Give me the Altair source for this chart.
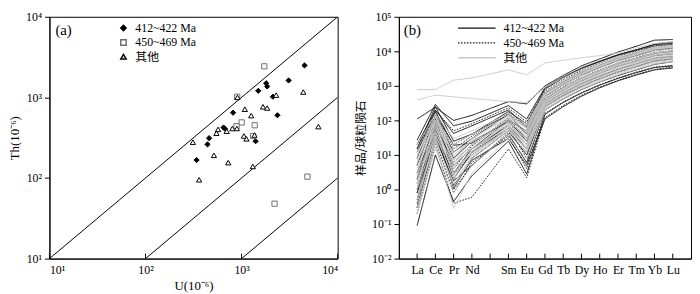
import altair as alt
import pandas as pd

SERIF = "Liberation Serif, Noto Sans CJK SC"
CJK = "Noto Sans CJK SC"

groups = ["412~422 Ma", "450~469 Ma", "其他"]

# ---------------- Panel (a): U vs Th ----------------
u_412 = [4520, 3087, 1803, 1845, 1491, 2118, 2360, 815, 648, 672, 459, 442, 1400, 340]
th_412 = [2492, 1622, 1496, 1368, 1206, 1018, 600, 645, 423, 408, 312, 261, 286, 167]
u_450 = [1722, 900, 1002, 885, 1370, 1319, 4842, 2203]
th_450 = [2426, 1018, 489, 438, 451, 332, 104, 48]
u_oth = [2291, 4385, 1671, 1845, 1081, 1259, 6300, 802, 893, 569, 700, 547, 1057,
         1124, 1361, 311, 515, 726, 1309, 361, 905]
th_oth = [1066, 1165, 764, 738, 713, 594, 434, 411, 411, 401, 380, 359, 332,
          306, 341, 278, 191, 155, 139, 95, 1000]

th_u_ratios = [1, 0.1, 0.01]
u_domain = [10, 10000]
th_domain = [10, 10000]
ticks_a = [10, 100, 1000, 10000]

# ---------------- Panel (b): REE patterns ----------------
ree_ticks = ["La", "Ce", "Pr", "Nd", "", "Sm", "Eu", "Gd", "Tb", "Dy", "Ho", "Er", "Tm", "Yb", "Lu"]
ree_elems = ["La", "Ce", "Pr", "Nd", "Sm", "Eu", "Gd", "Tb", "Dy", "Ho", "Er", "Tm", "Yb", "Lu"]

ree_412 = [
    [110, 240, 100, 140, 350, 300, 1000, 2000, 3800, 6000, 9500, 14000, 21000, 22000],
    [27, 290, 70, 95, 270, 110, 900, 1800, 3300, 5200, 8000, 11000, 15500, 17000],
    [20, 200, 42, 70, 200, 65, 620, 1300, 2500, 4000, 6400, 9000, 13000, 14500],
    [12, 180, 19, 22, 100, 50, 500, 1100, 2100, 3400, 5500, 7600, 11000, 12500],
    [5, 120, 8, 25, 90, 30, 420, 900, 1700, 2800, 4500, 6300, 9000, 10000],
    [3, 80, 5, 15, 70, 20, 350, 750, 1400, 2300, 3700, 5200, 7500, 8500],
    [1, 60, 2, 12, 60, 15, 300, 620, 1150, 1900, 3000, 4300, 6200, 7000],
    [0.5, 50, 1.1, 8, 50, 10, 250, 520, 950, 1600, 2500, 3600, 5200, 6000],
    [0.09, 10, 0.45, 2.5, 25, 2.8, 150, 330, 620, 1050, 1650, 2400, 3400, 3800],
    [0.3, 30, 1.8, 5, 40, 6, 200, 420, 780, 1300, 2000, 2900, 4200, 5000],
    [8, 150, 12, 30, 150, 40, 600, 1250, 2400, 3900, 6200, 8600, 12500, 14000],
    [2, 100, 3, 15, 100, 25, 400, 880, 1650, 2700, 4300, 6000, 8600, 9800],
    [0.8, 40, 1.3, 7, 30, 5, 110, 250, 500, 880, 1400, 2050, 2900, 3300],
    [15, 250, 25, 40, 180, 80, 800, 1700, 3100, 5000, 7800, 11000, 16000, 18500],
]
ree_450 = [
    [15, 200, 50, 80, 230, 90, 850, 1700, 3200, 5000, 7800, 10500, 14500, 16000],
    [5, 150, 20, 40, 150, 60, 600, 1300, 2400, 3900, 6200, 8800, 12500, 14000],
    [1.5, 90, 6, 20, 120, 40, 480, 1050, 2000, 3300, 5300, 7300, 10500, 12000],
    [0.4, 50, 2.5, 12, 80, 25, 350, 760, 1450, 2350, 3800, 5300, 7600, 8700],
    [0.2, 20, 0.4, 0.6, 15, 2.2, 120, 270, 540, 920, 1450, 2150, 3000, 3500],
    [3, 40, 3, 10, 60, 8, 260, 540, 1000, 1650, 2600, 3700, 5400, 6200],
    [0.8, 70, 1, 5, 45, 12, 300, 640, 1200, 1950, 3100, 4400, 6400, 7300],
    [8, 180, 15, 35, 160, 70, 700, 1500, 2800, 4500, 7200, 10000, 14000, 15500],
    [0.3, 25, 0.8, 6, 35, 4, 160, 340, 640, 1080, 1700, 2500, 3500, 3900],
    [2, 110, 4, 18, 110, 30, 420, 920, 1750, 2850, 4600, 6400, 9200, 10500],
]
ree_oth = [
    [780, 780, 1460, 1700, 2900, 2080, 4600, 5500, 6500, 7500, 9000, 12500, 17000, 19000],
    [390, 540, 480, 430, 350, 330, 900, 1700, 3000, 4600, 7000, 9500, 13000, 14500],
    [20, 150, 30, 50, 150, 80, 650, 1400, 2600, 4200, 6700, 9300, 13200, 15000],
    [10, 120, 15, 30, 120, 60, 520, 1120, 2150, 3500, 5600, 7800, 11200, 12800],
    [6, 100, 10, 25, 100, 45, 480, 1050, 2000, 3250, 5200, 7200, 10300, 11800],
    [4, 80, 7, 20, 90, 35, 400, 880, 1680, 2750, 4400, 6200, 8900, 10200],
    [2.5, 60, 5, 15, 80, 30, 380, 830, 1580, 2600, 4150, 5800, 8300, 9500],
    [1.5, 50, 3, 12, 70, 25, 340, 740, 1400, 2300, 3700, 5200, 7500, 8600],
    [1, 40, 2, 10, 60, 20, 320, 690, 1300, 2150, 3450, 4800, 6900, 7900],
    [0.6, 30, 1.2, 8, 50, 15, 280, 600, 1130, 1850, 2950, 4200, 6000, 6900],
    [0.3, 20, 0.28, 3, 30, 8, 200, 430, 800, 1320, 2100, 3000, 4300, 5000],
    [8, 70, 12, 25, 70, 30, 360, 780, 1480, 2420, 3900, 5450, 7800, 9000],
    [3, 130, 6, 20, 110, 50, 550, 1180, 2250, 3700, 5900, 8200, 11800, 13500],
    [12, 90, 20, 40, 130, 70, 580, 1250, 2350, 3850, 6100, 8500, 12200, 13800],
    [0.2, 15, 0.8, 5, 40, 12, 240, 510, 960, 1580, 2520, 3600, 5100, 5900],
    [5, 45, 6, 15, 60, 20, 300, 640, 1220, 2000, 3200, 4500, 6400, 7400],
    [1.2, 100, 2.5, 13, 90, 40, 420, 900, 1720, 2820, 4500, 6300, 9000, 10300],
    [0.5, 25, 1.5, 9, 55, 18, 260, 560, 1050, 1720, 2750, 3900, 5600, 6400],
    [2, 35, 4, 11, 50, 14, 220, 470, 880, 1450, 2300, 3300, 4700, 5400],
    [7, 160, 9, 28, 140, 60, 600, 1300, 2450, 4000, 6350, 8800, 12600, 14400],
]
ticks_b_y = [0.01, 0.1, 1, 10, 100, 1000, 10000, 100000]

# ---------------- build tables ----------------
pts = pd.DataFrame(
    [{"U": u, "Th": t, "group": groups[0]} for u, t in zip(u_412, th_412)]
    + [{"U": u, "Th": t, "group": groups[1]} for u, t in zip(u_450, th_450)]
    + [{"U": u, "Th": t, "group": groups[2]} for u, t in zip(u_oth, th_oth)]
)

diag_rows = []
for r in th_u_ratios:
    u0 = max(u_domain[0], th_domain[0] / r)
    for u in (u0, u_domain[1]):
        diag_rows.append({"U": u, "Th": r * u, "ratio": str(r)})
diag = pd.DataFrame(diag_rows)

ree_rows = []
sid = 0
for grp, series in zip(groups, [ree_412, ree_450, ree_oth]):
    for s in series:
        sid += 1
        for el, v in zip(ree_elems, s):
            ree_rows.append({"sample": f"{grp}-{sid}", "group": grp,
                             "pos": ree_ticks.index(el), "value": v, "gorder": groups.index(grp)})
ree = pd.DataFrame(ree_rows)

sup_expr = ("'10' + (datum.value < 1 ? '⁻' : '') + "
            "['⁰','¹','²','³','⁴','⁵'][abs(round(log(datum.value)/LN10))]")

W_A, W_B, H = 292, 296, 245

# ---------------- Panel (a) chart ----------------
xa_scale = alt.Scale(type="log", domain=u_domain)
ya_scale = alt.Scale(type="log", domain=th_domain)
xa_axis = alt.Axis(values=ticks_a, labelExpr=sup_expr, title="U(10⁻⁶)", tickSize=0,
                   labelPadding=6, titlePadding=4)
ya_axis = alt.Axis(values=ticks_a, labelExpr=sup_expr, title="Th(10⁻⁶)", tickSize=5,
                   labelPadding=3, titlePadding=4)

diag_chart = alt.Chart(diag).mark_line(color="black", strokeWidth=1, clip=True).encode(
    x=alt.X("U:Q", scale=xa_scale, axis=xa_axis),
    y=alt.Y("Th:Q", scale=ya_scale, axis=ya_axis),
    detail="ratio:N",
)

leg_a = alt.Legend(title=None, orient="none", legendX=69, legendY=5, padding=0,
                   labelFont=SERIF, labelFontSize=12, labelColor="black",
                   symbolSize=30, clipHeight=13, rowPadding=1.5, labelOffset=6)
pts_chart = alt.Chart(pts).mark_point(filled=True, strokeWidth=1, opacity=1).encode(
    x=alt.X("U:Q", scale=xa_scale, axis=xa_axis),
    y=alt.Y("Th:Q", scale=ya_scale, axis=ya_axis),
    shape=alt.Shape("group:N", scale=alt.Scale(domain=groups, range=["diamond", "square", "triangle-up"]), legend=leg_a),
    fill=alt.Fill("group:N", scale=alt.Scale(domain=groups, range=["black", "white", "white"]), legend=leg_a),
    stroke=alt.Stroke("group:N", scale=alt.Scale(domain=groups, range=["black", "#6e6e6e", "black"]), legend=leg_a),
    size=alt.value(28),
)

xtick_a = alt.Chart(pd.DataFrame({"U": ticks_a})).mark_rule(color="black").encode(
    x=alt.X("U:Q", scale=xa_scale, axis=xa_axis), y=alt.value(H), y2=alt.value(H - 5))

lab_a = alt.Chart(pd.DataFrame({"t": ["(a)"]})).mark_text(
    align="left", baseline="middle", font=SERIF, fontSize=15, color="black").encode(
    text="t:N", x=alt.value(6), y=alt.value(13))

panel_a = alt.layer(diag_chart, pts_chart, xtick_a, lab_a).properties(width=W_A, height=H)

# ---------------- Panel (b) chart ----------------
xb_scale = alt.Scale(domain=[-1, len(ree_ticks)], nice=False, zero=False)
yb_scale = alt.Scale(type="log", domain=[ticks_b_y[0], ticks_b_y[-1]])
names_js = "[" + ",".join(f"'{n}'" for n in ree_ticks) + "]"
xb_axis = alt.Axis(values=list(range(len(ree_ticks))), labelExpr=f"{names_js}[datum.value]",
                   title=None, tickSize=0, labelPadding=6, labelFontSize=12,
                   labelOverlap=False, labelBound=False)
yb_axis = alt.Axis(values=ticks_b_y, labelExpr=sup_expr, title="样品/球粒陨石",
                   titleFont=CJK, titleFontSize=12, tickSize=5, labelPadding=3, titlePadding=4)

leg_b = alt.Legend(title=None, orient="none", legendX=59, legendY=4, padding=0,
                   symbolType="stroke", symbolSize=1450, symbolStrokeWidth=1.4,
                   labelFont=SERIF, labelFontSize=12, labelColor="black",
                   clipHeight=15, rowPadding=0, labelOffset=7)
lines_b = alt.Chart(ree).mark_line(strokeWidth=1, clip=True).encode(
    x=alt.X("pos:Q", scale=xb_scale, axis=xb_axis),
    y=alt.Y("value:Q", scale=yb_scale, axis=yb_axis),
    color=alt.Color("group:N", scale=alt.Scale(domain=groups, range=["#111111", "#222222", "#c9c9c9"]), legend=leg_b),
    strokeDash=alt.StrokeDash("group:N", scale=alt.Scale(domain=groups, range=[[1, 0], [1.6, 1.4], [1, 0]]), legend=leg_b),
    detail="sample:N",
    order=alt.Order("gorder:Q"),
)

xtick_b = alt.Chart(pd.DataFrame({"pos": list(range(len(ree_ticks)))})).mark_rule(color="black").encode(
    x=alt.X("pos:Q", scale=xb_scale, axis=xb_axis), y=alt.value(H), y2=alt.value(H - 5))

lab_b = alt.Chart(pd.DataFrame({"t": ["(b)"]})).mark_text(
    align="left", baseline="middle", font=SERIF, fontSize=15, color="black").encode(
    text="t:N", x=alt.value(5), y=alt.value(13))

panel_b = alt.layer(lines_b, xtick_b, lab_b).properties(width=W_B, height=H)

chart = alt.hconcat(panel_a, panel_b, spacing=15).resolve_scale(
    color="independent", shape="independent", fill="independent", stroke="independent",
    strokeDash="independent"
).resolve_legend(
    color="independent", shape="independent", fill="independent", stroke="independent",
    strokeDash="independent"
).properties(padding=0).configure_view(
    stroke="black", strokeWidth=1
).configure_axis(
    grid=False, labelFont=SERIF, titleFont=SERIF, labelFontSize=12, titleFontSize=13,
    titleFontWeight="normal", domainColor="black", tickColor="black", labelColor="black",
    titleColor="black", domain=True
)

chart.save("out.html", embed_options={"renderer": "svg", "actions": False})
